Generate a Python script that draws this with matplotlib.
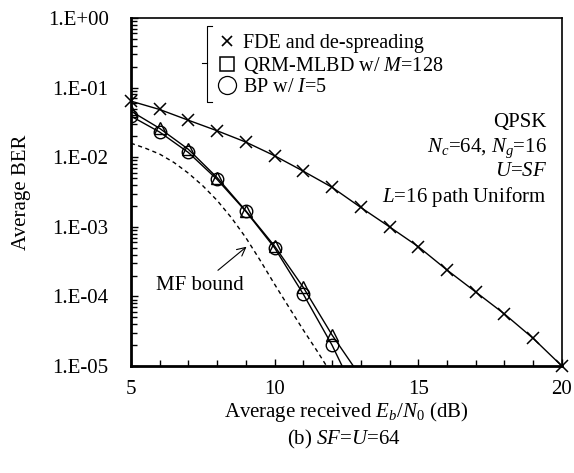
import math
import matplotlib
matplotlib.use('Agg')
import matplotlib.pyplot as plt
from matplotlib.lines import Line2D
from matplotlib.ticker import FixedLocator, LogLocator, NullFormatter, FuncFormatter

plt.rcParams['font.family'] = ['Liberation Serif', 'DejaVu Serif']
plt.rcParams['mathtext.fontset'] = 'custom'
plt.rcParams['mathtext.rm'] = 'Liberation Serif'
plt.rcParams['mathtext.it'] = 'Liberation Serif:italic'

# Eb/N0 (dB)
snr_fde = [5, 6, 7, 8, 9, 10, 11, 12, 13, 14, 15, 16, 17, 18, 19, 20]
ber_fde = [0.064, 0.0485, 0.034, 0.024, 0.0165, 0.0105, 0.0063, 0.0037,
           0.0019, 0.001, 5.2e-4, 2.4e-4, 1.16e-4, 5.6e-5, 2.5e-5, 1.0e-5]

snr_qrm = [5, 6, 7, 8, 9, 10, 11, 12, 13]
ber_qrm = [0.046, 0.026, 0.013, 0.0051, 0.0017, 5.3e-4, 1.35e-4, 2.8e-5, 7e-6]

snr_bp = [5, 6, 7, 8, 9, 10, 11, 12, 13]
ber_bp = [0.039, 0.023, 0.0117, 0.0048, 0.00167, 5.0e-4, 1.08e-4, 2.0e-5, 2.8e-6]

snr_mf = [5, 5.5, 6, 6.5, 7, 7.5, 8, 8.5, 9, 9.5, 10, 10.5, 11, 11.5, 12]
ber_mf = [0.0159, 0.0135, 0.0111, 0.0084, 0.0059, 0.0039, 0.0024, 0.00135,
          7.0e-4, 3.3e-4, 1.5e-4, 7.0e-5, 3.3e-5, 1.6e-5, 7.5e-6]

fs = 15

fig = plt.figure(figsize=(5.74, 4.73), dpi=100)
ax = fig.add_axes([0.228, 0.226, 0.751, 0.736])

ax.plot(snr_fde, ber_fde, color='black', lw=1.0, marker='x', ms=9, mew=1.1, clip_on=False, zorder=3)
ax.plot(snr_qrm, ber_qrm, color='black', lw=1.0, marker='^', ms=8, mfc='none', mew=1.0, zorder=3)
ax.plot(snr_bp, ber_bp, color='black', lw=1.0, marker='o', ms=9, mfc='none', mew=1.0, zorder=3)
ax.plot(snr_mf, ber_mf, color='black', lw=1.0, ls=(0, (3, 2.5)), zorder=2)

ax.set_yscale('log')
ax.set_xlim(5, 20)
ax.set_ylim(1e-5, 1)

ax.xaxis.set_major_locator(FixedLocator([5, 10, 15, 20]))
ax.xaxis.set_minor_locator(FixedLocator(list(range(5, 21))))
ax.yaxis.set_major_locator(LogLocator(base=10, numticks=10))
ax.yaxis.set_minor_locator(LogLocator(base=10, subs=range(2, 10), numticks=20))
ax.yaxis.set_minor_formatter(NullFormatter())
ax.yaxis.set_major_formatter(FuncFormatter(lambda v, p: '1.E%+03d' % round(math.log10(v))))

ax.tick_params(which='both', direction='in', top=False, right=False, labelsize=fs, width=1.0)
ax.tick_params(which='major', length=5)
ax.tick_params(which='minor', length=4)
ax.tick_params(axis='x', which='major', pad=10)
ax.tick_params(axis='y', which='major', pad=16)
for sp in ax.spines.values():
    sp.set_linewidth(1.2)
ax.spines['left'].set_linewidth(2.0)
ax.spines['bottom'].set_linewidth(2.0)

ax.set_xlabel('Average received $\\mathit{E_b}/\\mathit{N}_0$ (dB)', fontsize=fs, labelpad=1)
ax.set_ylabel('Average BER', fontsize=fs, labelpad=12)
fig.text(0.6, 0.07, '(b) $\\mathit{SF}$=$\\mathit{U}$=64', ha='center', va='center', fontsize=fs)

# parameter text
ax.text(0.965, 0.70, 'QPSK', transform=ax.transAxes, ha='right', va='center', fontsize=fs)
ax.text(0.965, 0.627, '$\\mathit{N_c}$=64, $\\mathit{N_g}$=16', transform=ax.transAxes, ha='right', va='center', fontsize=fs)
ax.text(0.965, 0.56, '$\\mathit{U}$=$\\mathit{SF}$', transform=ax.transAxes, ha='right', va='center', fontsize=fs)
ax.text(0.965, 0.485, '$\\mathit{L}$=16 path Uniform', transform=ax.transAxes, ha='right', va='center', fontsize=fs)

# MF bound label
ax.annotate('MF bound', xy=(9.1, 5.5e-4), xytext=(7.4, 1.45e-4), ha='center', va='center', fontsize=fs,
            arrowprops=dict(arrowstyle='->', color='black', lw=0.8, shrinkA=3, shrinkB=2))

# legend
handles = [
    Line2D([], [], ls='none', marker='x', color='black', ms=7, mew=1.2),
    Line2D([], [], ls='none', marker='s', color='black', mfc='none', ms=10, mew=1.1),
    Line2D([], [], ls='none', marker='o', color='black', mfc='none', ms=13, mew=0.9),
]
labels = ['FDE and de-spreading', 'QRM-MLBD w/ $\\mathit{M}$=128', 'BP w/ $\\mathit{I}$=5']
ax.legend(handles, labels, loc='upper left', bbox_to_anchor=(0.167, 0.995), frameon=False,
          fontsize=14.5, handlelength=1.0, handletextpad=0.3, labelspacing=0.1, borderpad=0.2)

# bracket to the left of the legend
ax.add_line(Line2D([0.188, 0.176, 0.176, 0.188], [0.976, 0.976, 0.76, 0.76],
                   transform=ax.transAxes, color='black', lw=0.8))
ax.add_line(Line2D([0.165, 0.176], [0.872, 0.872], transform=ax.transAxes, color='black', lw=0.8))

fig.savefig('out.png', dpi=100)
